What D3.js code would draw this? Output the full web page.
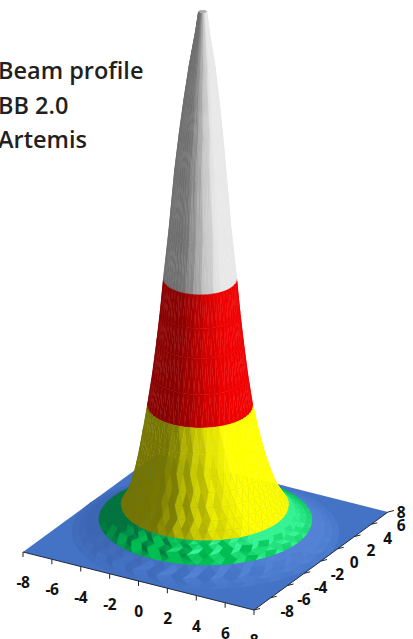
<!DOCTYPE html>
<html>
<head>
<meta charset="utf-8">
<script src="https://cdn.jsdelivr.net/npm/d3@7"></script>
<style>
  html, body { margin: 0; padding: 0; background: #fff; overflow: hidden; }
  svg { display: block; }
</style>
</head>
<body>
<div id="chart"></div>
<script>
// Beam profile, one entry per ring of the surface
var ringRadius = [0, 0.24, 0.42, 0.78, 1.05, 1.29, 1.53, 1.86, 2.19, 2.38, 2.58, 2.85, 3.15, 3.45, 3.71, 3.95, 4.19, 4.45, 4.72, 5.03, 5.2, 5.4, 5.7, 6.05, 6.4, 6.8, 7.2, 7.6, 8];
var ringHeight = [100, 100, 96, 89.4, 83.1, 76.7, 69.6, 58.1, 48.6, 42.4, 36.9, 30.3, 24.3, 19.6, 15.8, 12.9, 10.4, 8.2, 6.6, 5.2, 4.6, 4, 3.4, 2.8, 2.3, 1.5, 0.8, 0.3, 0];
var ringShift = [-0.15, -0.15, -0.16, -0.18, -0.21, -0.24, -0.27, -0.28, -0.28, -0.28, -0.28, -0.28, -0.28, -0.24, -0.2, -0.16, -0.12, -0.08, -0.05, -0.03, -0.02, -0.02, -0.01, -0.01, 0, 0, 0, 0, 0];
var ringRipple = [0, 0, 0, 0, 0, 0, 0, 0, 0, 0, 0, 0, 0, 0.004, 0.008, 0.01, 0.012, 0.012, 0.01, 0, 0.04, 0.05, 0.06, 0.05, 0, 0.05, 0.06, 0.04, 0];
var sectorTint = [0.03, -0.05, 0.06, 0, -0.07, 0.04, -0.02, 0.07, -0.04];

var axisTicks = [-8, -6, -4, -2, 0, 2, 4, 6, 8];
var titleLines = ["Beam profile", "BB 2.0", "Artemis"];

var bandLevels = [2.3, 5.2, 24.3, 48.6];
var bandFrontLight = [0.4, 0.4, 0.1, 0, 0];
var bandStops = [
  [-0.5, 0, 0.5],
  [-0.45, -0.02, 0.22, 0.6],
  [-0.6, -0.38, 0.05, 0.55],
  [-0.6, -0.38, 0.05, 0.55],
  [-0.6, -0.38, 0.05, 0.55]
];
var bandRamps = [
  ["#3d66b2", "#4472c4", "#5483d6"],
  ["#00743a", "#00c050", "#00c050", "#36f892"],
  ["#757500", "#808000", "#c8c800", "#ffff00"],
  ["#880000", "#900000", "#c80000", "#f00000"],
  ["#6e6e6e", "#787878", "#b8b8b8", "#e8e8e8"]
];

var width = 413, height = 639;
var sectors = 56;

var svg = d3.select("#chart").append("svg")
  .attr("width", width)
  .attr("height", height);

// the view is a plain oblique one: each data axis adds its own screen offset
var xToLeft = d3.scaleLinear().domain([-8, 8]).range([23, 254]);
var xToTop = d3.scaleLinear().domain([-8, 8]).range([552, 610]);
var yToLeft = d3.scaleLinear().domain([-8, 8]).range([0, 134]);
var yToTop = d3.scaleLinear().domain([-8, 8]).range([0, -98]);
var zToTop = d3.scaleLinear().domain([0, 100]).range([0, -520]);

function project(x, y, z) {
  return [xToLeft(x) + yToLeft(y), xToTop(x) + yToTop(y) + zToTop(z)];
}

var bandIndex = d3.scaleThreshold().domain(bandLevels).range(d3.range(bandRamps.length));
var shadeScales = bandRamps.map(function (ramp, k) {
  return d3.scaleLinear().domain(bandStops[k]).range(ramp).clamp(true);
});

var screenRight = [0.865, 0.502];
var screenFront = [0.51, -0.86];

function vertex(ring, j) {
  var stagger = (ring % 2) * 0.5;
  var angle = (j + stagger) * 2 * Math.PI / sectors;
  // the saw tooth of the grid only shows on the side that faces the viewer
  var frontness = Math.max(0, Math.cos(angle) * screenFront[0] + Math.sin(angle) * screenFront[1]);
  var r = ringRadius[ring] * (1 + frontness * ringRipple[ring] * (j % 2 ? 0.5 : -0.5));
  var c = ringShift[ring];
  return {
    x: c + r * Math.cos(angle),
    y: c * 0.592 + r * Math.sin(angle),
    z: ringHeight[ring]
  };
}

function shadeOf(a, b, c, band) {
  var k = 5.2 / 15.1;  // z units to grid units
  var u = [b.x - a.x, b.y - a.y, (b.z - a.z) * k];
  var v = [c.x - a.x, c.y - a.y, (c.z - a.z) * k];
  var n = [u[1] * v[2] - u[2] * v[1], u[2] * v[0] - u[0] * v[2], u[0] * v[1] - u[1] * v[0]];
  var len = Math.sqrt(n[0] * n[0] + n[1] * n[1] + n[2] * n[2]) || 1;
  var front = bandFrontLight[band];
  var lx = screenRight[0] + front * screenFront[0];
  var ly = screenRight[1] + front * screenFront[1];
  return (n[0] * lx + n[1] * ly) / len;
}

var facets = [];
function addFacet(a, b, c, band, sector) {
  var pa = project(a.x, a.y, a.z), pb = project(b.x, b.y, b.z), pc = project(c.x, c.y, c.z);
  var cross = (pb[0] - pa[0]) * (pc[1] - pa[1]) - (pb[1] - pa[1]) * (pc[0] - pa[0]);
  if (cross >= 0) return;
  var midX = (a.x + b.x + c.x) / 3, midY = (a.y + b.y + c.y) / 3;
  var tint = band > 1 ? sectorTint[sector % sectorTint.length] : 0;
  facets.push({
    pts: [pa, pb, pc],
    depth: xToTop(midX) + yToTop(midY),
    fill: shadeScales[band](shadeOf(a, b, c, band) + tint)
  });
}

for (var i = 0; i < ringRadius.length - 1; i++) {
  var band = bandIndex((ringHeight[i] + ringHeight[i + 1]) / 2);
  for (var j = 0; j < sectors; j++) {
    var a = vertex(i, j), a2 = vertex(i, (j + 1) % sectors);
    var b = vertex(i + 1, j), b2 = vertex(i + 1, (j + 1) % sectors);
    if (i % 2) {
      addFacet(a, b2, a2, band, j);
      addFacet(b, b2, a, band, j);
    } else {
      addFacet(a, b, a2, band, j);
      addFacet(a2, b, b2, band, j);
    }
  }
}
facets.sort(function (p, q) { return p.depth - q.depth; });

var corners = [project(-8, -8, 0), project(8, -8, 0), project(8, 8, 0), project(-8, 8, 0)];

svg.append("polygon")
  .attr("points", corners.join(" "))
  .attr("fill", bandRamps[0][1]);

svg.append("g").attr("class", "surface")
  .selectAll("polygon")
  .data(facets)
  .enter().append("polygon")
  .attr("points", function (d) { return d.pts.join(" "); })
  .attr("fill", function (d) { return d.fill; })
  .attr("stroke", function (d) { return d.fill; })
  .attr("stroke-width", 0.4)
  .attr("stroke-linejoin", "round");

// axes along the two front edges
var axes = svg.append("g").attr("class", "axes");

axes.append("path")
  .attr("d", d3.line()([corners[0], corners[1], corners[2]]))
  .attr("fill", "none")
  .attr("stroke", "#1f2a3a")
  .attr("stroke-width", 1);

axes.selectAll(".x-tick")
  .data(axisTicks)
  .enter().append("line")
  .attr("class", "x-tick")
  .attr("x1", function (d) { return project(d, -8, 0)[0]; })
  .attr("y1", function (d) { return project(d, -8, 0)[1]; })
  .attr("x2", function (d) { return project(d, -8, 0)[0]; })
  .attr("y2", function (d) { return project(d, -8, 0)[1] + 5; })
  .attr("stroke", "#222")
  .attr("stroke-width", 1);

axes.selectAll(".y-tick")
  .data(axisTicks)
  .enter().append("line")
  .attr("class", "y-tick")
  .attr("x1", function (d) { return project(8, d, 0)[0]; })
  .attr("y1", function (d) { return project(8, d, 0)[1]; })
  .attr("x2", function (d) { return project(8, d, 0)[0] + 6; })
  .attr("y2", function (d) { return project(8, d, 0)[1] - 1.5; })
  .attr("stroke", "#222")
  .attr("stroke-width", 1);

axes.selectAll(".x-label")
  .data(axisTicks)
  .enter().append("text")
  .attr("class", "x-label")
  .attr("x", function (d) { return project(d, -8, 0)[0]; })
  .attr("y", function (d) { return project(d, -8, 0)[1] + 36; })
  .attr("text-anchor", "middle")
  .attr("font-family", "'Open Sans', sans-serif")
  .attr("font-size", 15.5)
  .attr("font-weight", 700)
  .attr("letter-spacing", -0.5)
  .attr("fill", "#111")
  .text(function (d) { return d; });

axes.selectAll(".y-label")
  .data(axisTicks)
  .enter().append("text")
  .attr("class", "y-label")
  .attr("x", function (d) { return Math.min(project(8, d, 0)[0] + 33, 401); })
  .attr("y", function (d) { return project(8, d, 0)[1] + (d === 8 ? 6 : 7); })
  .attr("text-anchor", "middle")
  .attr("font-family", "'Open Sans', sans-serif")
  .attr("font-size", 15.5)
  .attr("font-weight", 700)
  .attr("letter-spacing", -0.5)
  .attr("fill", "#111")
  .text(function (d) { return d; });

svg.append("g").attr("class", "title")
  .selectAll("text")
  .data(titleLines)
  .enter().append("text")
  .attr("x", -2)
  .attr("y", function (d, i) { return 79 + i * 34.5; })
  .attr("font-family", "'Open Sans', sans-serif")
  .attr("font-size", 23.5)
  .attr("font-weight", 600)
  .attr("fill", "#231f20")
  .text(function (d) { return d; });
</script>
</body>
</html>
